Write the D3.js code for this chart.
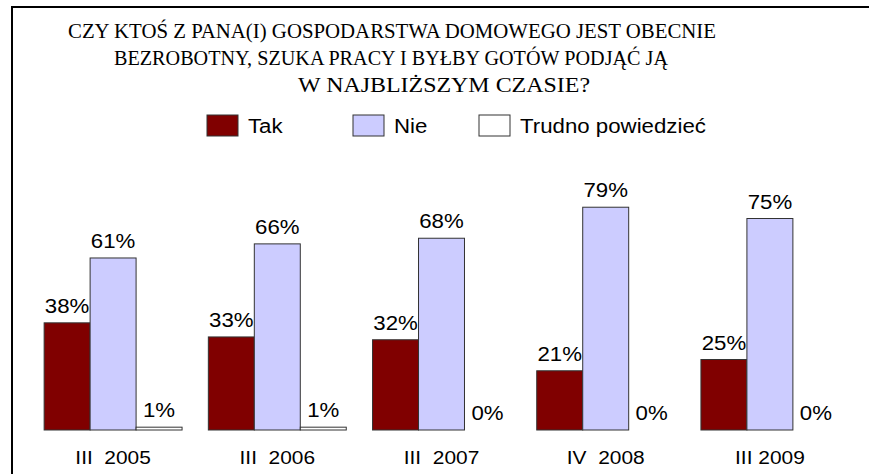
<!DOCTYPE html>
<html>
<head>
<meta charset="utf-8">
<script src="https://cdn.jsdelivr.net/npm/d3@7"></script>
<style>
	body { margin: 0; background: #fff; }
	svg { display: block; }
	text { white-space: pre; }
</style>
</head>
<body>
<svg id="chart" width="869" height="474"></svg>
<script>

var periods = ["III  2005", "III  2006", "III  2007", "IV  2008", "III 2009"];
var series = ["Tak", "Nie", "Trudno powiedzieć"];
var takValues = [38, 33, 32, 21, 25];
var nieValues = [61, 66, 68, 79, 75];
var trudnoValues = [1, 1, 0, 0, 0];

var titleLines = [
	"CZY KTOŚ Z PANA(I) GOSPODARSTWA DOMOWEGO JEST OBECNIE",
	"BEZROBOTNY, SZUKA PRACY I BYŁBY GOTÓW PODJĄĆ JĄ",
	"W NAJBLIŻSZYM CZASIE?"
];

var colors = ["#800000", "#ccccff", "#ffffff"];

var svg = d3.select("#chart");

// frame (right and bottom edges fall outside the picture)
svg.append("rect")
	.attr("x", 12)
	.attr("y", 7)
	.attr("width", 880)
	.attr("height", 500)
	.attr("fill", "none")
	.attr("stroke", "#000")
	.attr("stroke-width", 2);

// title, squeezed like the original serif type
var titleBox = [[68, 38, 648], [114, 65, 554], [298, 92, 292]];
svg.selectAll(".title")
	.data(titleLines)
	.enter().append("text")
	.attr("class", "title")
	.attr("x", function(d, i) { return titleBox[i][0]; })
	.attr("y", function(d, i) { return titleBox[i][1]; })
	.attr("textLength", function(d, i) { return titleBox[i][2]; })
	.attr("lengthAdjust", "spacingAndGlyphs")
	.attr("font-family", "'Liberation Serif', 'Times New Roman', serif")
	.attr("font-size", 22)
	.attr("fill", "#000")
	.text(function(d) { return d; });

// legend
var legendX = [207, 353, 479];
var legend = svg.selectAll(".legend")
	.data(series)
	.enter().append("g")
	.attr("class", "legend")
	.attr("transform", function(d, i) { return "translate(" + legendX[i] + ",115)"; });

legend.append("rect")
	.attr("width", 31)
	.attr("height", 21)
	.attr("fill", function(d, i) { return colors[i]; })
	.attr("stroke", "#333")
	.attr("stroke-width", 1);

legend.append("text")
	.attr("transform", "translate(41,18) scale(1.06,1)")
	.attr("font-family", "'Liberation Sans', Arial, sans-serif")
	.attr("font-size", 21)
	.attr("fill", "#000")
	.text(function(d) { return d; });

// scales
var data = periods.map(function(p, i) {
	return { period: p, values: [takValues[i], nieValues[i], trudnoValues[i]] };
});

var x0 = d3.scaleBand()
	.domain(periods)
	.range([31, 852])
	.paddingInner(0.16)
	.paddingOuter(0.08);

var x1 = d3.scaleBand()
	.domain(series)
	.range([0, x0.bandwidth()]);

var y = d3.scaleLinear()
	.domain([0, 100])
	.range([430, 148]);

var groups = svg.selectAll(".group")
	.data(data)
	.enter().append("g")
	.attr("class", "group")
	.attr("transform", function(d) { return "translate(" + x0(d.period) + ",0)"; });

var cells = function(d) {
	return d.values.map(function(v, i) { return { key: series[i], value: v, idx: i }; });
};

// zero values get no bar, only their label
groups.selectAll("rect")
	.data(function(d) { return cells(d).filter(function(c) { return c.value > 0; }); })
	.enter().append("rect")
	.attr("x", function(d) { return x1(d.key); })
	.attr("y", function(d) { return y(d.value); })
	.attr("width", x1.bandwidth())
	.attr("height", function(d) { return y(0) - y(d.value); })
	.attr("fill", function(d) { return colors[d.idx]; })
	.attr("stroke", "#333")
	.attr("stroke-width", 1);

groups.selectAll(".value")
	.data(cells)
	.enter().append("text")
	.attr("class", "value")
	.attr("transform", function(d) {
		return "translate(" + (x1(d.key) + x1.bandwidth() / 2) + "," + (y(d.value) - 10) + ") scale(1.06,1)";
	})
	.attr("text-anchor", "middle")
	.attr("font-family", "'Liberation Sans', Arial, sans-serif")
	.attr("font-size", 21)
	.attr("fill", "#000")
	.text(function(d) { return d.value + "%"; });

// category labels
groups.append("text")
	.attr("transform", "translate(" + (x0.bandwidth() / 2) + ",464) scale(1.1,1)")
	.attr("text-anchor", "middle")
	.attr("font-family", "'Liberation Sans', Arial, sans-serif")
	.attr("font-size", 19)
	.attr("fill", "#000")
	.text(function(d) { return d.period; });

</script>
</body>
</html>
